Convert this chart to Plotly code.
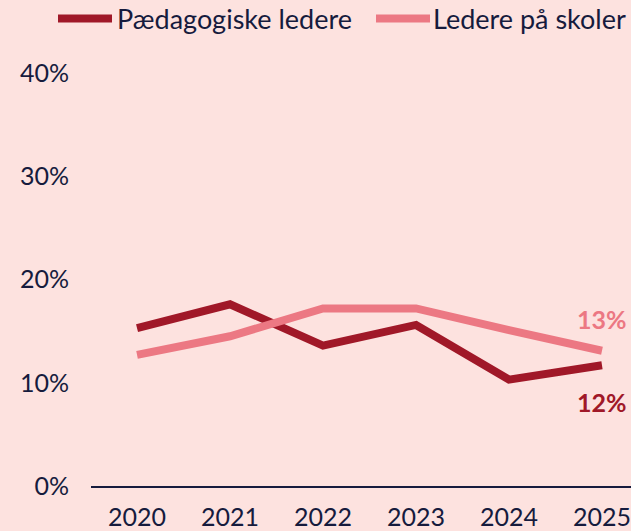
import plotly.graph_objects as go

years = [2020, 2021, 2022, 2023, 2024, 2025]
paed_ledere = [15.3, 17.6, 13.6, 15.6, 10.3, 11.7]
ledere_skoler = [12.7, 14.5, 17.2, 17.2, 15.1, 13.1]
series_names = ["Pædagogiske ledere", "Ledere på skoler"]
y_ticks = [0, 10, 20, 30, 40]
y_tick_labels = ["0%", "10%", "20%", "30%", "40%"]

DARK = "#A01828"
LIGHT = "#EC7883"
BG = "#FDE2DF"
TEXT = "#161B3D"
FONT = "Lato"
FS = 25
LEG_FS = 27

fig = go.Figure()
fig.add_trace(go.Scatter(x=years, y=paed_ledere, mode="lines", name=series_names[0],
                         line=dict(color=DARK, width=8), showlegend=False))
fig.add_trace(go.Scatter(x=years, y=ledere_skoler, mode="lines", name=series_names[1],
                         line=dict(color=LIGHT, width=8), showlegend=False))

# End labels
fig.add_annotation(x=years[-1], y=ledere_skoler[-1], text=f"<b>{round(ledere_skoler[-1])}%</b>",
                   showarrow=False, yshift=32, font=dict(family=FONT, size=FS, color=LIGHT))
fig.add_annotation(x=years[-1], y=paed_ledere[-1], text=f"<b>{round(paed_ledere[-1])}%</b>",
                   showarrow=False, yshift=-37, font=dict(family=FONT, size=FS, color=DARK))

# Manual legend (pixel -> paper)
L, W, T, H = 91, 540, 73, 417
def px(x):
    return (x - L) / W
def py(y):
    return (T + H - y) / H

legend_items = [(58, 112, 115, DARK, series_names[0]), (376, 430, 431, LIGHT, series_names[1])]
for x0, x1, xt, col, name in legend_items:
    fig.add_shape(type="line", xref="paper", yref="paper", x0=px(x0), x1=px(x1), y0=py(18), y1=py(18),
                  line=dict(color=col, width=8))
    fig.add_annotation(xref="paper", yref="paper", x=px(xt), y=py(18), text=name, showarrow=False,
                       xanchor="left", yanchor="middle", font=dict(family=FONT, size=LEG_FS, color=TEXT))

fig.update_layout(
    width=631, height=531,
    margin=dict(l=L, r=0, t=T, b=531 - T - H),
    paper_bgcolor=BG, plot_bgcolor=BG,
    font=dict(family=FONT, size=FS, color=TEXT),
    showlegend=False,
)
fig.update_xaxes(range=[2019.505, 2025.312], tickvals=years, ticktext=[str(y) for y in years],
                 showgrid=False, zeroline=False, showline=True, linecolor=TEXT, linewidth=2,
                 ticks="", ticklabelstandoff=8, tickfont=dict(family=FONT, size=FS, color=TEXT))
fig.update_yaxes(range=[0, 40], tickvals=y_ticks, ticktext=y_tick_labels, showgrid=False,
                 zeroline=False, showline=False, ticks="", ticklabelstandoff=21,
                 tickfont=dict(family=FONT, size=FS, color=TEXT))

fig.write_html("out.html", config={"displayModeBar": False}, post_script=(
    "document.body.style.margin='0';document.body.style.padding='0';"
    "document.body.style.background='" + BG + "';document.body.style.overflow='hidden';"))
